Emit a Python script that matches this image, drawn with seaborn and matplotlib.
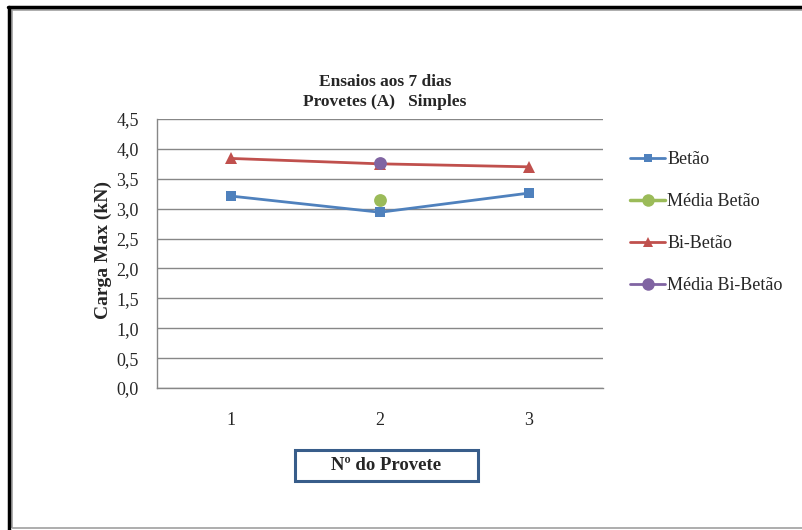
import matplotlib
matplotlib.use("Agg")
import matplotlib.pyplot as plt
import seaborn as sns
import pandas as pd
from matplotlib.patches import Rectangle
from matplotlib.lines import Line2D

# Data
provetes = [1, 2, 3]
betao = [3.21, 2.94, 3.26]
bi_betao = [3.84, 3.75, 3.70]
media_betao = [3.14]
media_bi_betao = [3.76]
media_pos = [2]
y_ticks = [0.0, 0.5, 1.0, 1.5, 2.0, 2.5, 3.0, 3.5, 4.0, 4.5]

title = "Ensaios aos 7 dias\nProvetes (A)   Simples"
ylabel = "Carga Max (kN)"
xlabel = "Nº do Provete"

c_blue = "#4F81BD"
c_green = "#9BBB59"
c_red = "#C0504D"
c_purple = "#8064A2"

sns.set_style("white")
plt.rcParams["font.family"] = ["Liberation Serif", "DejaVu Serif"]

fig = plt.figure(figsize=(8.02, 5.30), dpi=100)
ax = fig.add_axes([157 / 802, 1 - 388 / 530, (603 - 157) / 802, (388 - 119) / 530])

df_b = pd.DataFrame({"x": provetes, "y": betao})
df_bb = pd.DataFrame({"x": provetes, "y": bi_betao})
df_mb = pd.DataFrame({"x": media_pos, "y": media_betao})
df_mbb = pd.DataFrame({"x": media_pos, "y": media_bi_betao})

sns.lineplot(data=df_b, x="x", y="y", ax=ax, color=c_blue, lw=2,
             marker="s", markersize=7.5, markeredgewidth=0, zorder=3)
sns.lineplot(data=df_bb, x="x", y="y", ax=ax, color=c_red, lw=2,
             marker="^", markersize=8, markeredgewidth=0, zorder=3)
sns.scatterplot(data=df_mb, x="x", y="y", ax=ax, color=c_green, s=85,
                marker="o", linewidth=0, zorder=4)
sns.scatterplot(data=df_mbb, x="x", y="y", ax=ax, color=c_purple, s=85,
                marker="o", linewidth=0, zorder=4)

ax.set_xlim(0.5, 3.5)
ax.set_ylim(0, 4.5)
ax.set_xticks(provetes)
ax.set_xticklabels([str(p) for p in provetes], fontsize=13)
ax.set_yticks(y_ticks)
ax.set_yticklabels([f"{v:.1f}".replace(".", ",") for v in y_ticks], fontsize=13)
ax.tick_params(axis="x", length=0, pad=17)
ax.tick_params(axis="y", length=4, width=1, color="#878787", direction="out", pad=9)
ax.yaxis.grid(True, color="#878787", lw=1)
ax.xaxis.grid(False)
for s in ["top", "right"]:
    ax.spines[s].set_visible(False)
for s in ["left", "bottom"]:
    ax.spines[s].set_color("#878787")
    ax.spines[s].set_linewidth(1)
ax.set_xlabel("")
ax.set_ylabel(ylabel, fontsize=14, fontweight="bold")
ax.yaxis.set_label_coords((112 - 157) / (603 - 157), (388 - 250) / (388 - 119))

fig.text(385 / 802, 1 - 92 / 530, title, ha="center", va="center",
         fontsize=12.5, fontweight="bold", linespacing=1.25)

# Legend
handles = [
    Line2D([], [], color=c_blue, lw=2, marker="s", markersize=6, markeredgewidth=0),
    Line2D([], [], color=c_green, lw=2.5, marker="o", markersize=9, markeredgewidth=0),
    Line2D([], [], color=c_red, lw=2, marker="^", markersize=7, markeredgewidth=0),
    Line2D([], [], color=c_purple, lw=2, marker="o", markersize=9, markeredgewidth=0),
]
labels = ["Betão", "Média Betão", "Bi-Betão", "Média Bi-Betão"]
fig.legend(handles, labels, loc="upper left", bbox_to_anchor=(623 / 802, 1 - 144 / 530),
           frameon=False, fontsize=13, handlelength=1.95, handletextpad=0.1,
           labelspacing=1.38, borderaxespad=0)

# X-axis title inside a box
box = Rectangle((295 / 802, 1 - 481 / 530), (478 - 295) / 802, (481 - 450) / 530,
                transform=fig.transFigure, facecolor="white", edgecolor="#385D8A", lw=2.2)
fig.patches.append(box)
fig.text(386 / 802, 1 - 466 / 530, xlabel, ha="center", va="center",
         fontsize=13.5, fontweight="bold")

# Outer chart frame
fig.patches.append(Rectangle((12 / 802, 1 - 528 / 530), 800 / 802, 518 / 530,
                             transform=fig.transFigure, fill=False,
                             edgecolor="#A0A0A0", lw=1.2))
fig.lines.append(Line2D([9 / 802, 9 / 802], [0, 1 - 7 / 530],
                        transform=fig.transFigure, color="black", lw=2.5))
fig.lines.append(Line2D([8 / 802, 1], [1 - 7 / 530, 1 - 7 / 530],
                        transform=fig.transFigure, color="black", lw=2.5))

fig.savefig("out.png", dpi=100)
